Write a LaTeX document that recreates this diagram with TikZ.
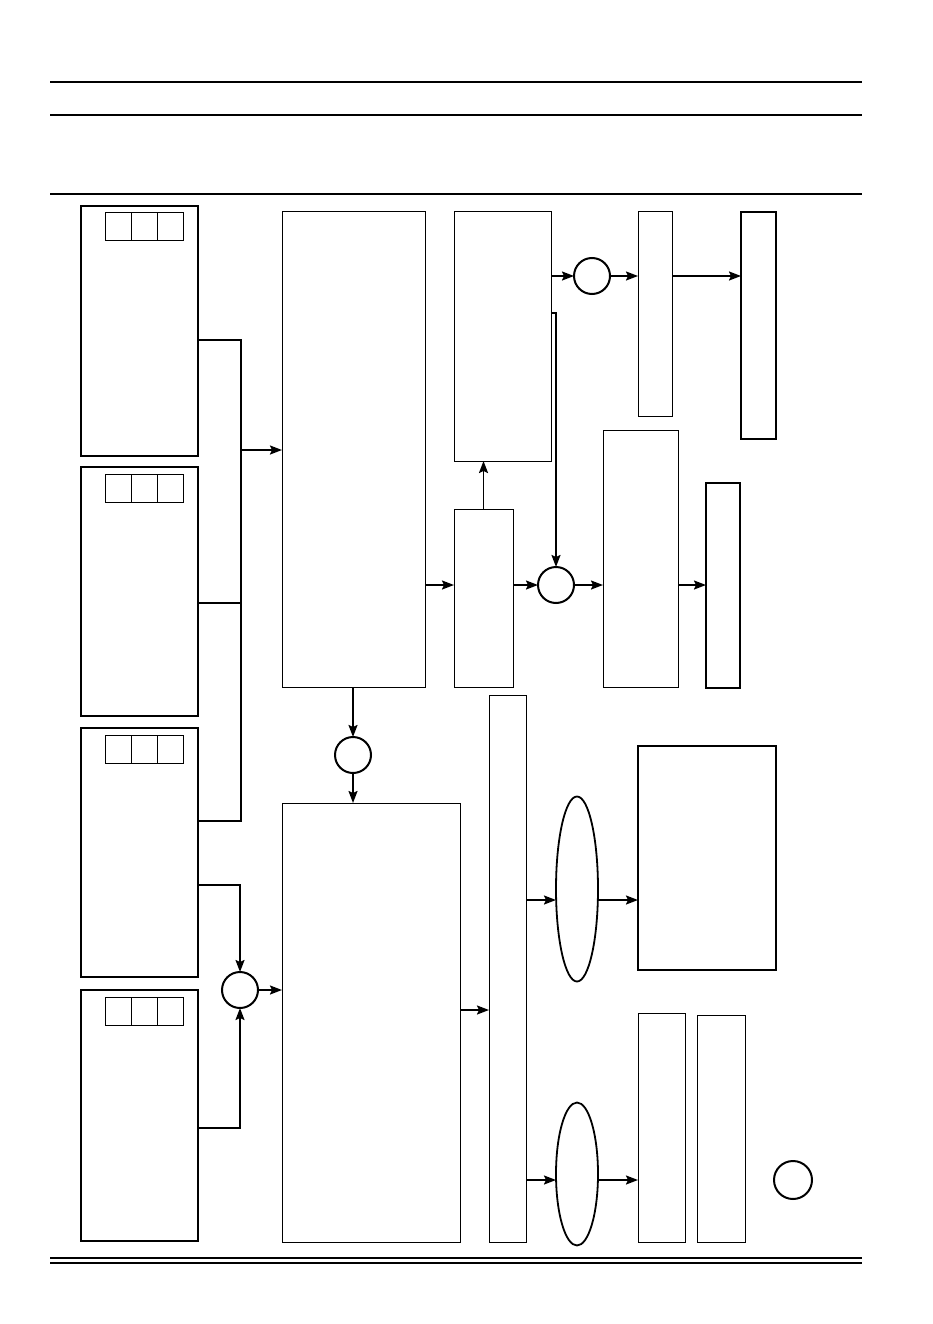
\documentclass[tikz,border=0pt]{standalone}
\usetikzlibrary{arrows.meta,shapes.geometric}

\tikzset{
  blk/.style={draw, rectangle, line width=1pt, inner sep=0pt, outer sep=0pt},
  heavy/.style={blk, line width=2.2pt},
  card/.style={blk, line width=1.8pt},
  cell/.style={blk, minimum width=26pt, minimum height=28pt, anchor=north west},
  sum/.style={draw, circle, line width=2pt, minimum size=36pt, inner sep=0pt, outer sep=0pt},
  lens/.style={draw, ellipse, line width=1.8pt, minimum width=42pt, inner sep=0pt, outer sep=0pt},
  flow/.style={-{Stealth[length=12pt,width=9pt,inset=2pt]}, line width=1.8pt},
  wire/.style={line width=1.9pt},
}

\begin{document}
\begin{tikzpicture}[x=1pt, y=-1pt]
  \useasboundingbox (0,0) rectangle (933,1324);

  % Rules
  \draw[line width=2.2pt] (50,82) -- (862,82);
  \draw[line width=2.2pt] (50,115) -- (862,115);
  \draw[line width=1.1pt] (50,194) -- (862,194);
  \draw[line width=2.2pt] (50,1258) -- (862,1258);
  \draw[line width=1.1pt] (50,1263) -- (862,1263);

  % Define nodes
  \node[card, minimum width=117pt, minimum height=250pt] (in1) at (139.5,331) {};
  \node[card, minimum width=117pt, minimum height=249pt] (in2) at (139.5,591.5) {};
  \node[card, minimum width=117pt, minimum height=249pt] (in3) at (139.5,852.5) {};
  \node[card, minimum width=117pt, minimum height=251pt] (in4) at (139.5,1115.5) {};
  \foreach \n in {1,...,4}
    \foreach \k in {0,1,2}
      \node[cell] (cell\n-\k) at ([shift={(24+26*\k,7)}]in\n.north west) {};

  \node[blk, minimum width=143pt, minimum height=475pt] (big1) at (353.5,449.5) {};
  \node[blk, minimum width=178pt, minimum height=439pt] (big2) at (371,1022.5) {};
  \node[sum] (sumin) at (240,990) {};
  \node[sum] (summid) at (353,755) {};

  \node[blk, minimum width=97pt, minimum height=249pt] (upper) at (502.5,336.5) {};
  \node[blk, minimum width=59pt, minimum height=178pt] (lower) at (483.5,598) {};
  \node[sum] (sumlow) at (556,585) {};
  \node[sum] (sumtop) at (592,276) {};
  \node[blk, minimum width=75pt, minimum height=257pt] (stageC) at (640.5,558.5) {};
  \node[heavy, minimum width=34pt, minimum height=205pt] (outD) at (723,585.5) {};
  \node[blk, minimum width=34pt, minimum height=204pt] (stageE) at (655,314) {};
  \node[heavy, minimum width=35pt, minimum height=227pt] (outF) at (758.5,325.5) {};

  \node[blk, minimum width=37pt, minimum height=547pt] (split) at (507.5,968.5) {};
  \node[lens, minimum height=185pt] (lens1) at (577,889) {};
  \node[lens, minimum height=143pt] (lens2) at (577,1174) {};
  \node[heavy, minimum width=138pt, minimum height=224pt] (panel) at (707,858) {};
  \node[blk, minimum width=47pt, minimum height=229pt] (outI) at (661.5,1127.5) {};
  \node[blk, minimum width=48pt, minimum height=227pt] (outJ) at (721,1128.5) {};
  \node[sum, minimum size=38pt] (spare) at (793,1180) {};

  % Rows and bus points
  \coordinate (bustop) at (241,340);
  \coordinate (busbot) at (241,821);
  \coordinate (busmid) at (241,603);
  \coordinate (busout) at (241,450);
  \coordinate (tap3) at (0,885);
  \coordinate (tap4) at (0,1128);
  \coordinate (tapA) at (0,313);
  \coordinate (rowG) at (0,1010);
  \coordinate (rowL1) at (0,900);
  \coordinate (rowL2) at (0,1180);

  % Connections
  \draw[wire] (in1.east |- bustop) -- (bustop) -- (busbot) -- (in3.east |- busbot);
  \draw[wire] (in2.east |- busmid) -- (busmid);
  \draw[flow] (busout) -- (big1.west |- busout);
  \draw[flow] (in3.east |- tap3) -| (sumin.north);
  \draw[flow] (in4.east |- tap4) -| (sumin.south);
  \draw[flow] (sumin.east) -- (big2.west |- sumin);
  \draw[flow] (summid |- big1.south) -- (summid.north);
  \draw[flow] (summid.south) -- (summid |- big2.north);

  \draw[flow] (big1.east |- sumlow) -- (lower.west |- sumlow);
  \draw[flow] (lower.east |- sumlow) -- (sumlow.west);
  \draw[flow] (sumlow.east) -- (stageC.west |- sumlow);
  \draw[flow] (stageC.east |- sumlow) -- (outD.west |- sumlow);
  \draw[flow] (lower.north) -- (lower.north |- upper.south);
  \draw[flow] (upper.east |- tapA) -| (sumlow.north);
  \draw[flow] (upper.east |- sumtop) -- (sumtop.west);
  \draw[flow] (sumtop.east) -- (stageE.west |- sumtop);
  \draw[flow] (stageE.east |- sumtop) -- (outF.west |- sumtop);

  \draw[flow] (big2.east |- rowG) -- (split.west |- rowG);
  \draw[flow] (split.east |- rowL1) -- (lens1.west |- rowL1);
  \draw[flow] (lens1.east |- rowL1) -- (panel.west |- rowL1);
  \draw[flow] (split.east |- rowL2) -- (lens2.west |- rowL2);
  \draw[flow] (lens2.east |- rowL2) -- (outI.west |- rowL2);
\end{tikzpicture}
\end{document}
